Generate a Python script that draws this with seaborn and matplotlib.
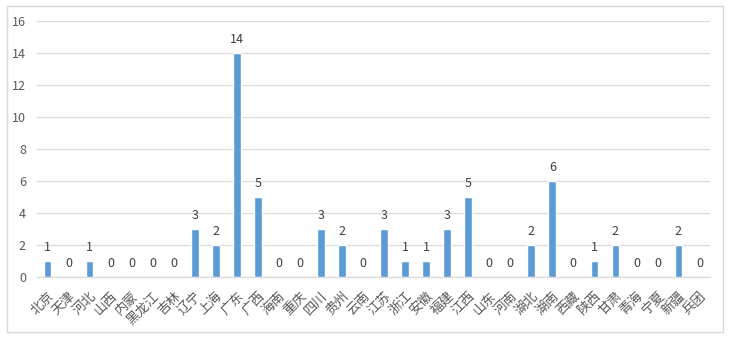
import matplotlib
matplotlib.use("Agg")
import matplotlib.pyplot as plt
import seaborn as sns
import pandas as pd
from matplotlib.patches import Rectangle

regions = ["北京", "天津", "河北", "山西", "内蒙", "黑龙江", "吉林", "辽宁", "上海", "广东",
           "广西", "海南", "重庆", "四川", "贵州", "云南", "江苏", "浙江", "安徽", "福建",
           "江西", "山东", "河南", "湖北", "湖南", "西藏", "陕西", "甘肃", "青海", "宁夏",
           "新疆", "兵团"]
counts = [1, 0, 1, 0, 0, 0, 0, 3, 2, 14,
          5, 0, 0, 3, 2, 0, 3, 1, 1, 3,
          5, 0, 0, 2, 6, 0, 1, 2, 0, 0,
          2, 0]
y_ticks = [0, 2, 4, 6, 8, 10, 12, 14, 16]

sns.set_theme(style="white")
plt.rcParams['font.family'] = ['Noto Sans CJK SC', 'DejaVu Sans']

df = pd.DataFrame({"region": regions, "count": counts})

W, H = 732, 338
fig = plt.figure(figsize=(W / 100, H / 100), dpi=100)
ax = fig.add_axes([37 / W, 1 - 277 / H, (710 - 37) / W, (277 - 21) / H])

sns.barplot(data=df, x="region", y="count", color="#5B9BD5", width=0.36,
            saturation=1, ax=ax, order=regions)

ax.set_ylim(0, 16)
ax.set_yticks(y_ticks)
ax.set_xlim(-0.5, len(regions) - 0.5)
ax.yaxis.grid(True, color="#D9D9D9", linewidth=0.9)
ax.set_axisbelow(True)
for s in ["top", "right", "left"]:
    ax.spines[s].set_visible(False)
ax.spines["bottom"].set_color("#D9D9D9")
ax.spines["bottom"].set_linewidth(0.9)
ax.set_xlabel("")
ax.set_ylabel("")
ax.tick_params(axis="y", labelsize=9, colors="#595959", length=0, pad=8)
ax.tick_params(axis="x", labelsize=9.5, colors="#595959", length=0, pad=9)
for lbl in ax.get_xticklabels():
    lbl.set_rotation(45)
    lbl.set_ha("right")
    lbl.set_rotation_mode("anchor")

for cont in ax.containers:
    ax.bar_label(cont, labels=[str(v) for v in counts], padding=5, fontsize=9, color="#404040")

fig.patches.append(Rectangle((7 / W, 1 - 332 / H), (723 - 7) / W, (332 - 6) / H,
                             transform=fig.transFigure, fill=False,
                             edgecolor="#D9D9D9", linewidth=1))

fig.savefig("out.png", dpi=100, facecolor="white")
